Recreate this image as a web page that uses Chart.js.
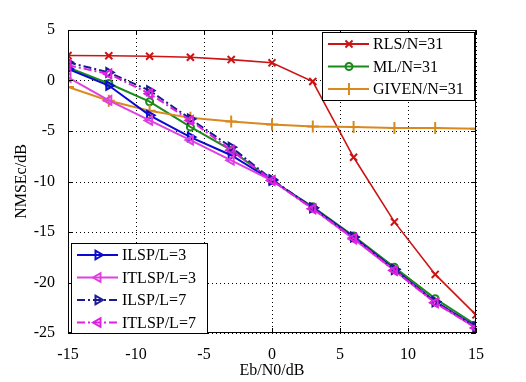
<!DOCTYPE html>
<html>
<head>
<meta charset="utf-8">
<script src="https://cdn.jsdelivr.net/npm/chart.js@4"></script>
<style>
  html, body { margin: 0; padding: 0; background: #fff; }
  #wrap { width: 526px; height: 382px; }
</style>
</head>
<body>
<div id="wrap"><canvas id="nmse" width="526" height="382"></canvas></div>
<script>
// Eb/N0 values (dB)
const ebn0 = [-15, -12, -9, -6, -3, 0, 3, 6, 9, 12, 15];

// NMSE values (dB)
const rls    = [2.47, 2.45, 2.4, 2.3, 2.07, 1.75, -0.1, -7.6, -14.0, -19.2, -23.2];
const ml     = [1.3, -0.3, -2.1, -4.6, -6.9, -9.9, -12.5, -15.4, -18.5, -21.6, -24.2];
const given  = [-0.65, -2.0, -3.0, -3.7, -4.05, -4.35, -4.55, -4.6, -4.7, -4.7, -4.77];
const ilsp3  = [1.15, -0.5, -3.45, -5.6, -7.4, -9.9, -12.6, -15.5, -18.7, -21.9, -24.4];
const itlsp3 = [0.3, -1.97, -3.95, -5.9, -7.9, -9.9, -12.7, -15.7, -18.8, -22.0, -24.5];
const ilsp7  = [1.8, 0.8, -1.0, -3.8, -6.6, -9.8, -12.6, -15.5, -18.7, -21.9, -24.4];
const itlsp7 = [1.5, 0.65, -1.3, -3.95, -6.9, -9.9, -12.7, -15.6, -18.8, -22.0, -24.5];

const FONT = '"Liberation Serif", "DejaVu Serif", serif';

function pts(arr) {
    return arr.map((v, i) => ({ x: ebn0[i], y: v }));
}

function series(label, data, color, style, rotation, dash, order) {
    return {
        label,
        data: pts(data),
        borderColor: color,
        backgroundColor: 'rgba(0,0,0,0)',
        pointBorderColor: color,
        pointBackgroundColor: 'rgba(0,0,0,0)',
        pointStyle: style,
        pointRotation: rotation,
        pointRadius: 5,
        pointBorderWidth: 2,
        borderWidth: 2,
        borderDash: dash,
        tension: 0,
        order
    };
}

const datasets = [
    series('RLS/N=31', rls, '#cc1414', 'crossRot', 0, [], 7),
    series('ML/N=31', ml, '#1a8a1a', 'circle', 0, [], 6),
    series('GIVEN/N=31', given, '#d88a1e', 'cross', 0, [], 5),
    series('ILSP/L=3', ilsp3, '#0a0ad0', 'triangle', 90, [], 4),
    series('ITLSP/L=3', itlsp3, '#e040e0', 'triangle', -90, [], 3),
    series('ILSP/L=7', ilsp7, '#1a1a90', 'triangle', 90, [8, 3, 2, 3], 2),
    series('ITLSP/L=7', itlsp7, '#e020e0', 'triangle', -90, [8, 3, 2, 3], 1)
];
datasets[0].borderWidth = 1.6;
datasets[1].pointRadius = 3.5;
datasets[2].pointRadius = 6;

// dotted grid, box, inward ticks and the two legend boxes
const frame = {
    id: 'frame',
    beforeDatasetsDraw(chart) {
        const ctx = chart.ctx;
        const a = chart.chartArea;
        const xs = chart.scales.x, ys = chart.scales.y;
        ctx.save();
        ctx.strokeStyle = '#000';
        ctx.lineWidth = 1;
        ctx.setLineDash([1, 3]);
        ctx.beginPath();
        xs.ticks.forEach(t => {
            const px = Math.round(xs.getPixelForValue(t.value)) + 0.5;
            ctx.moveTo(px, a.top); ctx.lineTo(px, a.bottom);
        });
        ys.ticks.forEach(t => {
            const py = Math.round(ys.getPixelForValue(t.value)) + 0.5;
            ctx.moveTo(a.left, py); ctx.lineTo(a.right, py);
        });
        ctx.stroke();
        ctx.restore();
    },
    afterDraw(chart) {
        const ctx = chart.ctx;
        const a = chart.chartArea;
        const xs = chart.scales.x, ys = chart.scales.y;
        ctx.save();
        ctx.strokeStyle = '#000';
        ctx.lineWidth = 1;
        ctx.strokeRect(a.left + 0.5, a.top + 0.5, a.right - a.left - 1, a.bottom - a.top - 1);
        ctx.beginPath();
        xs.ticks.forEach(t => {
            const px = Math.round(xs.getPixelForValue(t.value)) + 0.5;
            ctx.moveTo(px, a.bottom); ctx.lineTo(px, a.bottom - 5);
            ctx.moveTo(px, a.top); ctx.lineTo(px, a.top + 5);
        });
        ys.ticks.forEach(t => {
            const py = Math.round(ys.getPixelForValue(t.value)) + 0.5;
            ctx.moveTo(a.left, py); ctx.lineTo(a.left + 5, py);
            ctx.moveTo(a.right, py); ctx.lineTo(a.right - 5, py);
        });
        ctx.stroke();

        drawLegend(chart, [0, 1, 2], 322, 32, 152, 68, 22.5);
        drawLegend(chart, [3, 4, 5, 6], 71, 243, 136, 90, 22.5);
        ctx.restore();
    }
};

function drawLegend(chart, idx, x, y, w, h, step) {
    const ctx = chart.ctx;
    ctx.fillStyle = '#fff';
    ctx.fillRect(x, y, w, h);
    ctx.strokeStyle = '#000';
    ctx.lineWidth = 1;
    ctx.strokeRect(x + 0.5, y + 0.5, w, h);
    ctx.font = '16px ' + FONT;
    ctx.textBaseline = 'middle';
    idx.forEach((di, k) => {
        const ds = chart.data.datasets[di];
        const cy = y + 12 + k * step;
        ctx.save();
        ctx.strokeStyle = ds.borderColor;
        ctx.fillStyle = 'rgba(0,0,0,0)';
        ctx.lineWidth = 2;
        ctx.setLineDash(ds.borderDash);
        ctx.beginPath();
        ctx.moveTo(x + 6, cy); ctx.lineTo(x + 47, cy);
        ctx.stroke();
        ctx.setLineDash([]);
        Chart.helpers.drawPoint(ctx, {
            pointStyle: ds.pointStyle,
            rotation: ds.pointRotation,
            radius: ds.pointRadius,
            borderWidth: 2
        }, x + 27, cy);
        ctx.restore();
        ctx.fillStyle = '#000';
        ctx.fillText(ds.label, x + 51, cy + 1);
    });
}

new Chart(document.getElementById('nmse'), {
    type: 'line',
    data: { datasets },
    options: {
        responsive: false,
        animation: false,
        layout: { padding: { left: 0, top: 30, right: 50, bottom: 0 } },
        plugins: {
            legend: { display: false },
            tooltip: { enabled: false }
        },
        scales: {
            x: {
                type: 'linear',
                min: -15,
                max: 15,
                ticks: {
                    stepSize: 5,
                    color: '#000',
                    padding: 4,
                    font: { family: FONT, size: 16 }
                },
                grid: { display: false },
                border: { display: false },
                title: {
                    display: true,
                    text: 'Eb/N0/dB',
                    color: '#000',
                    padding: { top: 0, bottom: 2 },
                    font: { family: FONT, size: 16 }
                },
                afterFit: s => { s.height = 49; }
            },
            y: {
                min: -25,
                max: 5,
                ticks: {
                    stepSize: 5,
                    color: '#000',
                    padding: 5,
                    font: { family: FONT, size: 16 }
                },
                grid: { display: false },
                border: { display: false },
                title: {
                    display: true,
                    text: 'NMSEc/dB',
                    color: '#000',
                    padding: { top: 12, bottom: 0 },
                    font: { family: FONT, size: 16 }
                },
                afterFit: s => { s.width = 68; }
            }
        }
    },
    plugins: [frame]
});
</script>
</body>
</html>
